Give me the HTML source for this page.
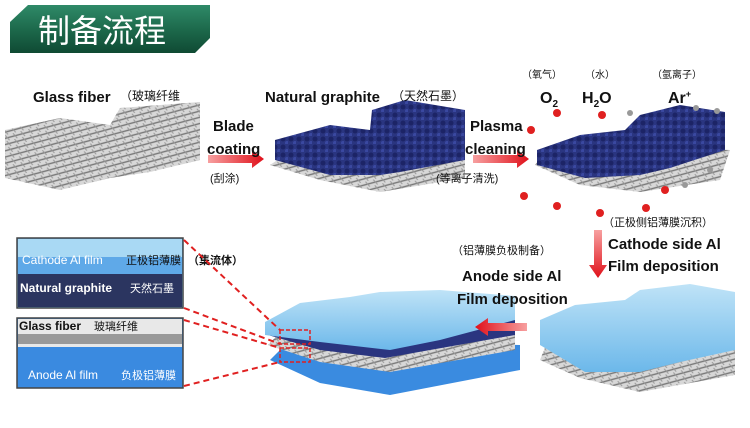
<!DOCTYPE html>
<html><head><meta charset="utf-8"><style>
html,body{margin:0;padding:0;background:#fff;}
svg{display:block;}
text{font-family:"Liberation Sans","Noto Sans CJK SC",sans-serif;}
</style></head><body>
<svg width="750" height="428" viewBox="0 0 750 428" xmlns="http://www.w3.org/2000/svg">
<defs>
<linearGradient id="hdr" x1="0" y1="0" x2="0" y2="1"><stop offset="0" stop-color="#2f8a68"/><stop offset="0.5" stop-color="#1d6a4c"/><stop offset="1" stop-color="#0f4a33"/></linearGradient>
<pattern id="fib" width="8" height="6" patternUnits="userSpaceOnUse" patternTransform="rotate(-15)"><rect width="8" height="6" fill="#d8d8d8"/><line x1="0" y1="3" x2="8" y2="3" stroke="#777" stroke-width="1.4"/><line x1="2" y1="0" x2="5" y2="6" stroke="#999" stroke-width="1"/></pattern>
<pattern id="gra" width="8" height="8" patternUnits="userSpaceOnUse"><rect width="8" height="8" fill="#2a3580"/><circle cx="3" cy="3" r="2.5" fill="#1c2466"/><circle cx="7" cy="7" r="2" fill="#3a48a0"/></pattern>
<linearGradient id="al" x1="0" y1="0" x2="0" y2="1"><stop offset="0" stop-color="#bfe3f7"/><stop offset="1" stop-color="#6cb8ea"/></linearGradient>
<linearGradient id="arr" x1="0" y1="0" x2="1" y2="0"><stop offset="0" stop-color="#f7a0a0"/><stop offset="1" stop-color="#e0101a"/></linearGradient>
<linearGradient id="arrd" x1="0" y1="0" x2="0" y2="1"><stop offset="0" stop-color="#f7a0a0"/><stop offset="1" stop-color="#e0101a"/></linearGradient>
<linearGradient id="arrl" x1="1" y1="0" x2="0" y2="0"><stop offset="0" stop-color="#f7a0a0"/><stop offset="1" stop-color="#e0101a"/></linearGradient>
</defs>

<!-- header -->
<polygon points="28,5 210,5 210,38 195,53 10,53 10,22" fill="url(#hdr)"/>
<text x="38" y="42" font-size="32" fill="#fff">制备流程</text>

<!-- image 1 glass fiber -->
<polygon points="5,130 60,118 110,125 120,108 200,102 200,160 150,172 110,178 60,190 5,178" fill="url(#fib)"/>

<!-- image 2 graphite -->
<polygon points="270,165 320,180 380,192 465,178 465,150 300,145" fill="url(#fib)"/>
<polygon points="275,140 330,125 370,130 372,110 405,100 465,110 465,160 400,172 380,175 330,175 275,160" fill="url(#gra)"/>

<!-- image 3 -->
<polygon points="535,165 580,185 640,192 720,180 730,150 550,145" fill="url(#fib)"/>
<polygon points="537,150 580,135 625,130 640,115 680,105 725,112 725,150 670,168 640,175 585,178 537,165" fill="url(#gra)"/>
<g fill="#e02020">
<circle cx="557" cy="113" r="4"/><circle cx="602" cy="115" r="4"/><circle cx="531" cy="130" r="4"/>
<circle cx="524" cy="196" r="4"/><circle cx="557" cy="206" r="4"/><circle cx="600" cy="213" r="4"/><circle cx="665" cy="190" r="4"/><circle cx="646" cy="208" r="4"/>
</g>
<g fill="#999"><circle cx="630" cy="113" r="3"/><circle cx="696" cy="108" r="3"/><circle cx="717" cy="111" r="3"/><circle cx="685" cy="185" r="3"/><circle cx="710" cy="170" r="3"/></g>

<!-- image 4 -->
<polygon points="540,360 580,378 640,392 735,375 735,345 548,340" fill="url(#fib)"/>
<polygon points="540,320 575,305 625,300 640,290 690,284 735,292 735,350 680,362 640,372 585,372 540,345" fill="url(#al)"/>

<!-- center image -->
<polygon points="270,360 320,383 390,395 520,370 520,345 290,340" fill="#3a8be0"/>
<polygon points="268,345 320,362 390,372 515,350 515,325 290,322" fill="url(#fib)"/>
<polygon points="268,335 320,350 385,358 515,335 515,310 290,312" fill="#2a3580"/>
<polygon points="265,322 300,303 350,297 380,292 440,290 515,296 515,320 440,340 390,350 320,342 265,335" fill="url(#al)"/>
<rect x="280" y="330" width="30" height="14" fill="none" stroke="#e02020" stroke-width="1.5" stroke-dasharray="4,2"/>
<rect x="280" y="348" width="30" height="14" fill="none" stroke="#e02020" stroke-width="1.5" stroke-dasharray="4,2"/>

<!-- arrows -->
<polygon points="208,155 252,155 252,150 264,159 252,168 252,163 208,163" fill="url(#arr)"/>
<polygon points="473,155 517,155 517,150 529,159 517,168 517,163 473,163" fill="url(#arr)"/>
<polygon points="594,230 602,230 602,265 607,265 598,278 589,265 594,265" fill="url(#arrd)"/>
<polygon points="527,323 488,323 488,318 475,327 488,336 488,331 527,331" fill="url(#arrl)"/>

<!-- texts -->
<text x="33" y="102" font-size="15" font-weight="bold" fill="#111">Glass fiber</text>
<text x="120" y="100" font-size="12" fill="#111">（玻璃纤维</text>
<text x="213" y="131" font-size="15" font-weight="bold" fill="#111">Blade</text>
<text x="207" y="154" font-size="15" font-weight="bold" fill="#111">coating</text>
<text x="210" y="182" font-size="11" fill="#111">(刮涂)</text>
<text x="265" y="102" font-size="15" font-weight="bold" fill="#111">Natural graphite</text>
<text x="392" y="100" font-size="12" fill="#111">（天然石墨）</text>
<text x="470" y="131" font-size="15" font-weight="bold" fill="#111">Plasma</text>
<text x="465" y="154" font-size="15" font-weight="bold" fill="#111">cleaning</text>
<text x="436" y="182" font-size="11" fill="#111">(等离子清洗)</text>
<text x="522" y="78" font-size="10" fill="#111">（氧气）</text>
<text x="585" y="78" font-size="10" fill="#111">（水）</text>
<text x="652" y="78" font-size="10" fill="#111">（氩离子）</text>
<text x="540" y="103" font-size="16" font-weight="bold" fill="#111">O<tspan font-size="10" dy="4">2</tspan></text>
<text x="582" y="103" font-size="16" font-weight="bold" fill="#111">H<tspan font-size="10" dy="4">2</tspan><tspan dy="-4">O</tspan></text>
<text x="668" y="103" font-size="16" font-weight="bold" fill="#111">Ar<tspan font-size="9" dy="-6">+</tspan></text>
<text x="603" y="226" font-size="11" fill="#111">（正极侧铝薄膜沉积）</text>
<text x="608" y="249" font-size="15" font-weight="bold" fill="#111">Cathode side Al</text>
<text x="608" y="271" font-size="15" font-weight="bold" fill="#111">Film deposition</text>
<text x="452" y="254" font-size="11" fill="#111">（铝薄膜负极制备）</text>
<text x="462" y="281" font-size="15" font-weight="bold" fill="#111">Anode side Al</text>
<text x="457" y="304" font-size="15" font-weight="bold" fill="#111">Film deposition</text>

<!-- inset boxes -->
<rect x="17" y="238" width="166" height="70" fill="#5fa9e8" stroke="#444" stroke-width="1.5"/>
<rect x="18" y="239" width="164" height="18" fill="#a9d9f4"/>
<rect x="18" y="274" width="164" height="33" fill="#2b3560"/>
<text x="22" y="264" font-size="12" fill="#fff">Cathode Al film</text>
<text x="126" y="264" font-size="11" fill="#111">正极铝薄膜</text>
<text x="20" y="292" font-size="12" font-weight="bold" fill="#fff">Natural graphite</text>
<text x="130" y="292" font-size="11" fill="#fff">天然石墨</text>
<text x="188" y="264" font-size="11" font-weight="bold" fill="#111">（集流体）</text>

<rect x="17" y="318" width="166" height="70" fill="#3a8ae0" stroke="#444" stroke-width="1.5"/>
<rect x="18" y="319" width="164" height="28" fill="#e8e8e8"/>
<rect x="18" y="334" width="164" height="10" fill="#999"/>
<text x="19" y="330" font-size="12" font-weight="bold" fill="#111">Glass fiber</text>
<text x="94" y="330" font-size="11" fill="#111">玻璃纤维</text>
<text x="28" y="379" font-size="12" fill="#fff">Anode Al film</text>
<text x="121" y="379" font-size="11" fill="#fff">负极铝薄膜</text>

<g stroke="#e02020" stroke-width="2" stroke-dasharray="6,4" fill="none">
<line x1="184" y1="240" x2="280" y2="330"/>
<line x1="184" y1="308" x2="280" y2="344"/>
<line x1="184" y1="320" x2="280" y2="348"/>
<line x1="184" y1="386" x2="280" y2="362"/>
</g>
</svg>
</body></html>
